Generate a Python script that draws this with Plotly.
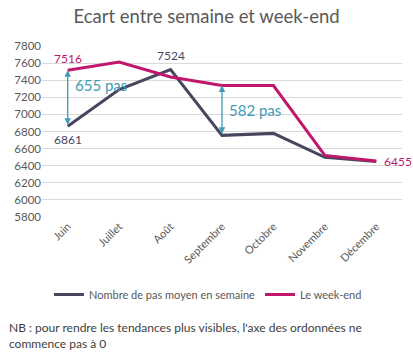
import plotly.graph_objects as go

months = ["Juin", "Juillet", "Août", "Septembre", "Octobre", "Novembre", "Décembre"]
semaine = [6861, 7290, 7524, 6755, 6778, 6498, 6450]
weekend = [7516, 7613, 7438, 7337, 7337, 6520, 6455]
y_ticks = [5800, 6000, 6200, 6400, 6600, 6800, 7000, 7200, 7400, 7600, 7800]

C_SEM = "#46475f"
C_WE = "#c0176c"
C_TEAL = "#3f9cb4"
C_TXT = "#595959"
FONT = "Lato"

fig = go.Figure()
fig.add_trace(go.Scatter(x=months, y=semaine, mode="lines", name="Nombre de pas moyen en semaine",
                         line=dict(color=C_SEM, width=3)))
fig.add_trace(go.Scatter(x=months, y=weekend, mode="lines", name="Le week-end",
                         line=dict(color=C_WE, width=3)))

ann = []
# data labels
ann.append(dict(x=months[0], y=weekend[0], text=str(weekend[0]), showarrow=False, yshift=12,
                font=dict(color=C_WE, size=12)))
ann.append(dict(x=months[0], y=semaine[0], text=str(semaine[0]), showarrow=False, yshift=-13,
                font=dict(color=C_SEM, size=12)))
ann.append(dict(x=months[2], y=semaine[2], text=str(semaine[2]), showarrow=False, yshift=14,
                font=dict(color=C_SEM, size=12)))
ann.append(dict(x=months[6], y=weekend[6], text=str(weekend[6]), showarrow=False, xshift=6,
                xanchor="left", font=dict(color=C_WE, size=12)))

# gap arrows
for i in (0, 3):
    ann.append(dict(x=months[i], y=weekend[i], ax=months[i], ay=semaine[i], axref="x", ayref="y",
                    xref="x", yref="y", text="", showarrow=True, arrowhead=2, arrowside="end+start",
                    arrowsize=1, arrowwidth=1.3, arrowcolor=C_TEAL, standoff=0, startstandoff=0))
    gap = weekend[i] - semaine[i]
    ann.append(dict(x=months[i], y=(weekend[i] + semaine[i]) / 2, text=f"{gap} pas", showarrow=False,
                    xanchor="left", xshift=5, yshift=13 if i == 0 else 0,
                    font=dict(color=C_TEAL, size=15)))

ann.append(dict(xref="paper", yref="paper", x=-35/360, y=-(318-217)/171, xanchor="left", yanchor="top",
                align="left", showarrow=False,
                text="NB : pour rendre les tendances plus visibles, l'axe des ordonnées ne<br>commence pas à 0",
                font=dict(color="#404040", size=12)))

fig.update_layout(
    width=413, height=353,
    margin=dict(l=42, r=11, t=46, b=136),
    paper_bgcolor="white", plot_bgcolor="white",
    font=dict(family=FONT, color=C_TXT, size=11),
    title=dict(text="Ecart entre semaine et week-end", x=0.5, xanchor="center", y=1 - 17/353,
               yanchor="middle", font=dict(size=18.5, color=C_TXT, family=FONT)),
    xaxis=dict(range=[-0.5, 6.5], tickangle=-45, showgrid=False, showline=False, ticks="",
               tickfont=dict(size=11, color=C_TXT)),
    yaxis=dict(range=[5800, 7800], tickvals=y_ticks, showgrid=True, gridcolor="#d9d9d9", gridwidth=1,
               zeroline=False, tickfont=dict(size=11.5, color=C_TXT), ticks="", ticklen=0),
    legend=dict(orientation="h", x=0.461, xanchor="center", y=-(280-217)/171, yanchor="top",
                font=dict(size=11, color=C_TXT), itemwidth=30),
    showlegend=True,
    annotations=ann,
)

fig.write_html("out.html")
